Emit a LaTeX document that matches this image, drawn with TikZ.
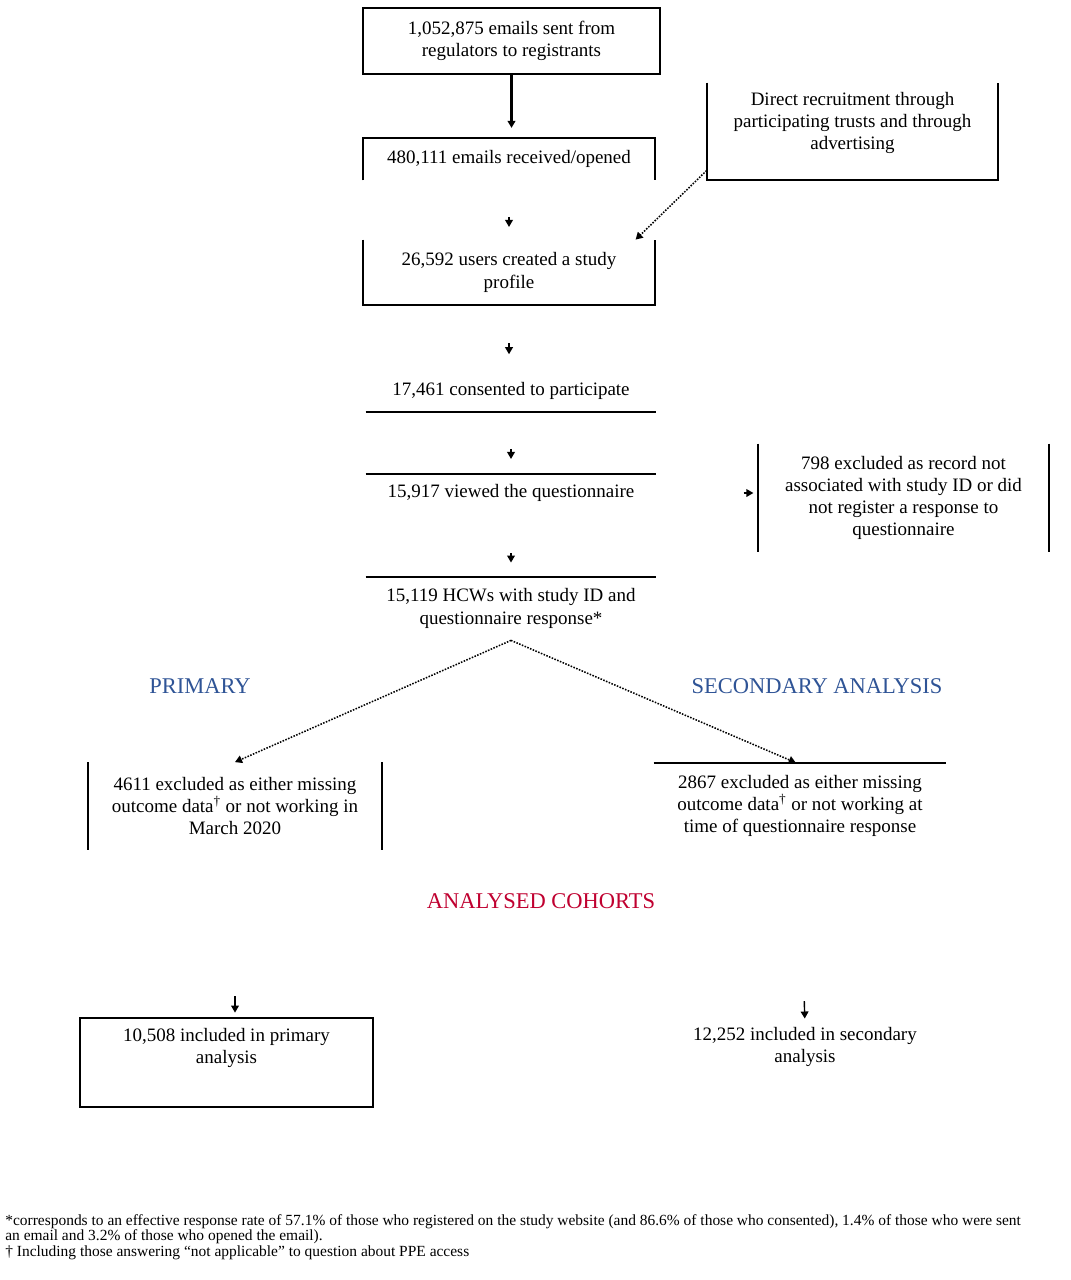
\documentclass[tikz,border=0pt]{standalone}
\usepackage{fontspec}
\setmainfont{Liberation Serif}
\usetikzlibrary{arrows.meta}
\definecolor{headblue}{RGB}{47,84,150}
\definecolor{headred}{RGB}{192,0,48}
\tikzset{
	flowtext/.style={rectangle, align=center, inner sep=0pt, font=\fontsize{13.5}{15.8}\selectfont},
	heading/.style={inner sep=0pt, font=\fontsize{16}{19}\selectfont},
	edge/.style={line width=1.5pt},
	tip/.style={-{Triangle[width=5.5pt,length=5pt]}, line width=1pt},
	dots/.style={-{Triangle[width=5.5pt,length=5pt]}, densely dotted, line width=1.1pt}
}
\begin{document}
\begin{tikzpicture}[x=0.025cm, y=-0.025cm]
		
		\useasboundingbox[fill=white] (0,0) rectangle (1070,1280);
		
		%Top boxes
		\node (emails) at (511.5,41) [flowtext, draw, edge, minimum width=7.43cm, minimum height=1.65cm]{1,052,875 emails sent from\\regulators to registrants};
		\node (opened) at (509,159) [flowtext, minimum width=7.3cm, minimum height=1.05cm]{480,111 emails received/opened};
		\node (recruitbox) at (852.5,131.5) [rectangle, minimum width=7.28cm, minimum height=2.43cm]{};
		\node (recruit) at (852.5,123) [flowtext]{Direct recruitment through\\participating trusts and through\\advertising};
		\node (profile) at (509,272.5) [flowtext, minimum width=7.3cm, minimum height=1.63cm]{26,592 users created a study\\profile};
		
		%Middle boxes
		\node (consent) at (511,391) [flowtext, minimum width=7.25cm, minimum height=1.05cm]{17,461 consented to participate};
		\node (viewed) at (511,493) [flowtext, minimum width=7.25cm, minimum height=0.95cm]{15,917 viewed the questionnaire};
		\node (hcw) at (511,608.5) [flowtext, minimum width=7.25cm, minimum height=1.58cm]{15,119 HCWs with study ID and\\questionnaire response*};
		\node (noid) at (903.5,498) [flowtext, minimum width=7.28cm, minimum height=2.7cm]{798 excluded as record not\\associated with study ID or did\\not register a response to\\questionnaire};
		
		%Exclusion boxes
		\node (exclprim) at (235,806) [flowtext, minimum width=7.35cm, minimum height=2.18cm]{4611 excluded as either missing\\outcome data\textsuperscript{†} or not working in\\March 2020};
		\node (exclsec) at (800,806) [flowtext, minimum width=7.3cm, minimum height=2.15cm]{2867 excluded as either missing\\outcome data\textsuperscript{†} or not working at\\time of questionnaire response};
		
		%Cohorts
		\node (primbox) at (226.5,1062.5) [rectangle, draw, edge, minimum width=7.33cm, minimum height=2.23cm]{};
		\node (prim) at (226.5,1048) [flowtext]{10,508 included in primary\\analysis};
		\node (sec) at (805,1047) [flowtext]{12,252 included in secondary\\analysis};
		
		%Box borders
		\draw[edge] (opened.south west) -- (opened.north west) -- (opened.north east) -- (opened.south east);
		\draw[edge] (recruitbox.north west) -- (recruitbox.south west) -- (recruitbox.south east) -- (recruitbox.north east);
		\draw[edge] (profile.north west) -- (profile.south west) -- (profile.south east) -- (profile.north east);
		\draw[edge] (consent.south west) -- (consent.south east);
		\draw[edge] (viewed.north west) -- (viewed.north east);
		\draw[edge] (hcw.north west) -- (hcw.north east);
		\draw[edge] (noid.north west) -- (noid.south west);
		\draw[edge] (noid.north east) -- (noid.south east);
		\draw[edge] (exclprim.north west) -- (exclprim.south west);
		\draw[edge] (exclprim.north east) -- (exclprim.south east);
		\draw[edge] (exclsec.north west) -- (exclsec.north east);
		
		%Arrows
		\draw[tip, line width=1.5pt, shorten >=7pt] (emails.south) -- (emails.south |- opened.north);
		\draw[tip, shorten <=26pt, shorten >=9pt] (opened.south) -- (opened.south |- profile.north);
		\draw[tip, shorten <=27pt, shorten >=11pt] (profile.south) -- (profile.south |- consent.north);
		\draw[tip, shorten <=26pt, shorten >=10.5pt] (consent.south) -- (viewed.north);
		\draw[tip, shorten <=29pt, shorten >=10pt] (viewed.south) -- (hcw.north);
		\draw[tip, shorten <=62pt, shorten >=3pt] (viewed.east) -- (viewed.east -| noid.west);
		\draw[tip, shorten <=104pt, shorten >=3pt] (exclprim.south) -- (exclprim.south |- primbox.north);
		\draw[tip, shorten <=108pt, shorten >=6pt] (exclsec.south) -- (sec.north);
		\draw[dots] (recruitbox.195) -- ([xshift=-14pt]profile.north east);
		\draw[dots] (hcw.south) -- (exclprim.north);
		\draw[dots] (hcw.south) -- ([xshift=-3pt]exclsec.north);
		
		%Names
		\node (primary) at (200,686) [heading, text=headblue]{PRIMARY};
		\node (secondary) at (817,686) [heading, text=headblue]{SECONDARY ANALYSIS};
		\node (cohorts) at (541,901) [heading, text=headred]{ANALYSED COHORTS};
		
		%Footnote
		\node (note) at (5,1214) [anchor=north west, align=left, inner sep=0pt, font=\fontsize{11}{11}\selectfont]{*corresponds to an effective response rate of 57.1\% of those who registered on the study website (and 86.6\% of those who consented), 1.4\% of those who were sent\\an email and 3.2\% of those who opened the email).\\† Including those answering “not applicable” to question about PPE access};
		
		\end{tikzpicture}
\end{document}
